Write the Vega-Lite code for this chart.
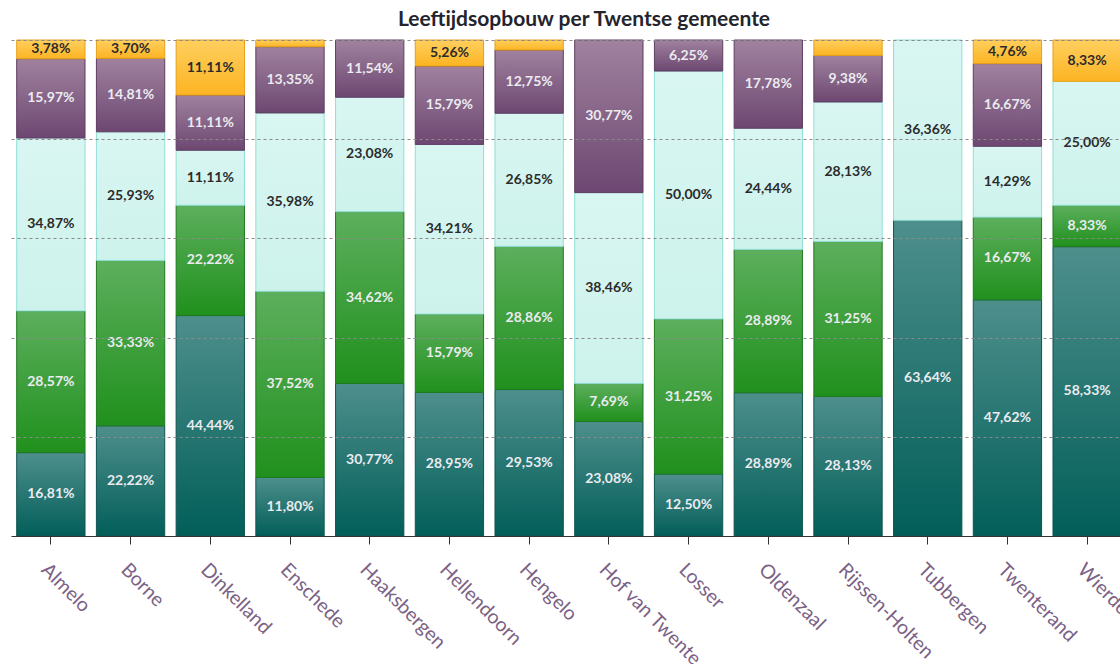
{
  "$schema": "https://vega.github.io/schema/vega-lite/v6.json",
  "width": 1116,
  "height": 496,
  "padding": {"left": 11, "top": 8, "right": 0, "bottom": 0},
  "title": {"text": "Leeftijdsopbouw per Twentse gemeente", "font": "Lato", "fontSize": 21, "fontWeight": "bold", "color": "#24242e", "anchor": "middle", "dx": 15, "offset": 10},
  "config": {"view": {"stroke": null}},
  "data": {"values": [
    {"gemeente": "Almelo", "groep": "A", "waarde": 16.81},
    {"gemeente": "Almelo", "groep": "B", "waarde": 28.57},
    {"gemeente": "Almelo", "groep": "C", "waarde": 34.87},
    {"gemeente": "Almelo", "groep": "D", "waarde": 15.97},
    {"gemeente": "Almelo", "groep": "E", "waarde": 3.78},
    {"gemeente": "Borne", "groep": "A", "waarde": 22.22},
    {"gemeente": "Borne", "groep": "B", "waarde": 33.33},
    {"gemeente": "Borne", "groep": "C", "waarde": 25.93},
    {"gemeente": "Borne", "groep": "D", "waarde": 14.81},
    {"gemeente": "Borne", "groep": "E", "waarde": 3.70},
    {"gemeente": "Dinkelland", "groep": "A", "waarde": 44.44},
    {"gemeente": "Dinkelland", "groep": "B", "waarde": 22.22},
    {"gemeente": "Dinkelland", "groep": "C", "waarde": 11.11},
    {"gemeente": "Dinkelland", "groep": "D", "waarde": 11.11},
    {"gemeente": "Dinkelland", "groep": "E", "waarde": 11.11},
    {"gemeente": "Enschede", "groep": "A", "waarde": 11.80},
    {"gemeente": "Enschede", "groep": "B", "waarde": 37.52},
    {"gemeente": "Enschede", "groep": "C", "waarde": 35.98},
    {"gemeente": "Enschede", "groep": "D", "waarde": 13.35},
    {"gemeente": "Enschede", "groep": "E", "waarde": 1.35},
    {"gemeente": "Haaksbergen", "groep": "A", "waarde": 30.77},
    {"gemeente": "Haaksbergen", "groep": "B", "waarde": 34.62},
    {"gemeente": "Haaksbergen", "groep": "C", "waarde": 23.08},
    {"gemeente": "Haaksbergen", "groep": "D", "waarde": 11.54},
    {"gemeente": "Haaksbergen", "groep": "E", "waarde": 0},
    {"gemeente": "Hellendoorn", "groep": "A", "waarde": 28.95},
    {"gemeente": "Hellendoorn", "groep": "B", "waarde": 15.79},
    {"gemeente": "Hellendoorn", "groep": "C", "waarde": 34.21},
    {"gemeente": "Hellendoorn", "groep": "D", "waarde": 15.79},
    {"gemeente": "Hellendoorn", "groep": "E", "waarde": 5.26},
    {"gemeente": "Hengelo", "groep": "A", "waarde": 29.53},
    {"gemeente": "Hengelo", "groep": "B", "waarde": 28.86},
    {"gemeente": "Hengelo", "groep": "C", "waarde": 26.85},
    {"gemeente": "Hengelo", "groep": "D", "waarde": 12.75},
    {"gemeente": "Hengelo", "groep": "E", "waarde": 2.01},
    {"gemeente": "Hof van Twente", "groep": "A", "waarde": 23.08},
    {"gemeente": "Hof van Twente", "groep": "B", "waarde": 7.69},
    {"gemeente": "Hof van Twente", "groep": "C", "waarde": 38.46},
    {"gemeente": "Hof van Twente", "groep": "D", "waarde": 30.77},
    {"gemeente": "Hof van Twente", "groep": "E", "waarde": 0},
    {"gemeente": "Losser", "groep": "A", "waarde": 12.50},
    {"gemeente": "Losser", "groep": "B", "waarde": 31.25},
    {"gemeente": "Losser", "groep": "C", "waarde": 50.00},
    {"gemeente": "Losser", "groep": "D", "waarde": 6.25},
    {"gemeente": "Losser", "groep": "E", "waarde": 0},
    {"gemeente": "Oldenzaal", "groep": "A", "waarde": 28.89},
    {"gemeente": "Oldenzaal", "groep": "B", "waarde": 28.89},
    {"gemeente": "Oldenzaal", "groep": "C", "waarde": 24.44},
    {"gemeente": "Oldenzaal", "groep": "D", "waarde": 17.78},
    {"gemeente": "Oldenzaal", "groep": "E", "waarde": 0},
    {"gemeente": "Rijssen-Holten", "groep": "A", "waarde": 28.13},
    {"gemeente": "Rijssen-Holten", "groep": "B", "waarde": 31.25},
    {"gemeente": "Rijssen-Holten", "groep": "C", "waarde": 28.13},
    {"gemeente": "Rijssen-Holten", "groep": "D", "waarde": 9.38},
    {"gemeente": "Rijssen-Holten", "groep": "E", "waarde": 3.11},
    {"gemeente": "Tubbergen", "groep": "A", "waarde": 63.64},
    {"gemeente": "Tubbergen", "groep": "B", "waarde": 0},
    {"gemeente": "Tubbergen", "groep": "C", "waarde": 36.36},
    {"gemeente": "Tubbergen", "groep": "D", "waarde": 0},
    {"gemeente": "Tubbergen", "groep": "E", "waarde": 0},
    {"gemeente": "Twenterand", "groep": "A", "waarde": 47.62},
    {"gemeente": "Twenterand", "groep": "B", "waarde": 16.67},
    {"gemeente": "Twenterand", "groep": "C", "waarde": 14.29},
    {"gemeente": "Twenterand", "groep": "D", "waarde": 16.67},
    {"gemeente": "Twenterand", "groep": "E", "waarde": 4.76},
    {"gemeente": "Wierden", "groep": "A", "waarde": 58.33},
    {"gemeente": "Wierden", "groep": "B", "waarde": 8.33},
    {"gemeente": "Wierden", "groep": "C", "waarde": 25.00},
    {"gemeente": "Wierden", "groep": "D", "waarde": 0},
    {"gemeente": "Wierden", "groep": "E", "waarde": 8.33}
  ]},
  "transform": [
    {"stack": "waarde", "groupby": ["gemeente"], "sort": [{"field": "groep", "order": "ascending"}], "offset": "normalize", "as": ["y0", "y1"]}
  ],
  "encoding": {
    "x": {"field": "gemeente", "type": "nominal", "sort": null,
      "scale": {"paddingInner": 0.143, "paddingOuter": 0.0715},
      "axis": {"title": null, "labelAngle": 45, "labelFont": "Lato", "labelFontSize": 19.5, "labelColor": "#7b6184", "domainColor": "#333333", "tickColor": "#333333", "tickSize": 8, "labelPadding": 16, "zindex": 1}}
  },
  "layer": [
    {
      "transform": [{"filter": "datum.groep === 'A'"}],
      "mark": {"type": "bar", "strokeWidth": 1, "stroke": "#0f5551",
        "fill": {"gradient": "linear", "x1": 0, "y1": 0, "x2": 0, "y2": 1, "stops": [{"offset": 0, "color": "#4e8f8c"}, {"offset": 1, "color": "#025e59"}]}},
      "encoding": {
        "y": {"field": "y0", "type": "quantitative", "scale": {"domain": [0, 1]},
          "axis": {"title": null, "labels": false, "ticks": false, "domain": false, "grid": true, "values": [0.2, 0.4, 0.6, 0.8, 1], "gridDash": [3, 3], "gridColor": "#8a8a8a", "gridWidth": 1, "zindex": 1}},
        "y2": {"field": "y1"}
      }
    },
    {
      "transform": [{"filter": "datum.groep === 'B' && datum.waarde > 0"}],
      "mark": {"type": "bar", "strokeWidth": 1, "stroke": "#1f7a1f",
        "fill": {"gradient": "linear", "x1": 0, "y1": 0, "x2": 0, "y2": 1, "stops": [{"offset": 0, "color": "#5daf5d"}, {"offset": 1, "color": "#20901d"}]}},
      "encoding": {"y": {"field": "y0", "type": "quantitative"}, "y2": {"field": "y1"}}
    },
    {
      "transform": [{"filter": "datum.groep === 'C' && datum.waarde > 0"}],
      "mark": {"type": "bar", "strokeWidth": 1, "stroke": "#8fdfd5",
        "fill": {"gradient": "linear", "x1": 0, "y1": 0, "x2": 0, "y2": 1, "stops": [{"offset": 0, "color": "#d9f6f2"}, {"offset": 1, "color": "#cdf2ec"}]}},
      "encoding": {"y": {"field": "y0", "type": "quantitative"}, "y2": {"field": "y1"}}
    },
    {
      "transform": [{"filter": "datum.groep === 'D' && datum.waarde > 0"}],
      "mark": {"type": "bar", "strokeWidth": 1, "stroke": "#5f3d63",
        "fill": {"gradient": "linear", "x1": 0, "y1": 0, "x2": 0, "y2": 1, "stops": [{"offset": 0, "color": "#a0829f"}, {"offset": 1, "color": "#6d4771"}]}},
      "encoding": {"y": {"field": "y0", "type": "quantitative"}, "y2": {"field": "y1"}}
    },
    {
      "transform": [{"filter": "datum.groep === 'E' && datum.waarde > 0"}],
      "mark": {"type": "bar", "strokeWidth": 1, "stroke": "#e6a01a",
        "fill": {"gradient": "linear", "x1": 0, "y1": 0, "x2": 0, "y2": 1, "stops": [{"offset": 0, "color": "#ffcf5e"}, {"offset": 1, "color": "#fcb423"}]}},
      "encoding": {"y": {"field": "y0", "type": "quantitative"}, "y2": {"field": "y1"}}
    },
    {
      "transform": [
        {"filter": "datum.waarde >= 3.5"},
        {"calculate": "(datum.y0 + datum.y1) / 2", "as": "ym"},
        {"calculate": "replace(format(datum.waarde, '.2f'), '.', ',') + '%'", "as": "label"}
      ],
      "mark": {"type": "text", "font": "Lato", "fontSize": 14, "fontWeight": "bold", "baseline": "middle", "align": "center"},
      "encoding": {
        "y": {"field": "ym", "type": "quantitative"},
        "text": {"field": "label"},
        "color": {"condition": {"test": "datum.groep === 'C' || datum.groep === 'E'", "value": "#2b2b2b"}, "value": "#ebebf0"}
      }
    }
  ]
}
